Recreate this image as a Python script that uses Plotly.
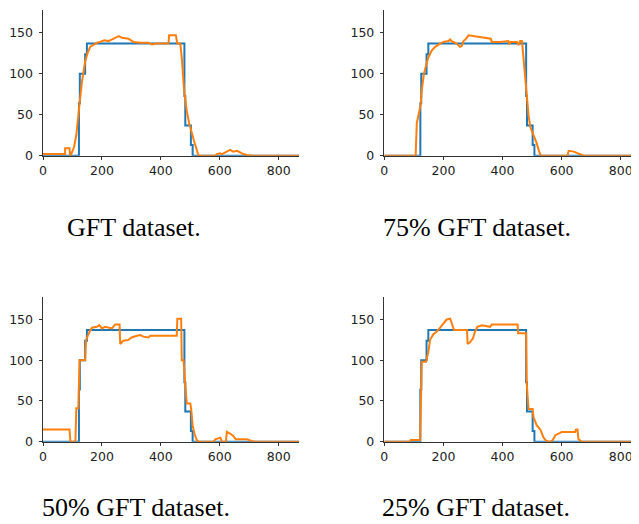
import plotly.graph_objects as go

# Ground truth (step) shared by all panels
gt_x = [0, 122, 125, 143, 149, 480, 483, 502, 508, 870]
gt_y = [0, 64, 100, 124, 137, 73, 37, 13, 0, 0]

# Estimated series for each dataset
full_x = [0, 75, 75, 90, 92, 97, 105, 113, 123, 132, 143, 151, 160, 172, 183, 194, 208, 222, 240, 257,
          268, 290, 307, 330, 358, 370, 386, 426, 428, 451, 456, 466, 471, 479, 488, 496, 511, 522, 528,
          584, 590, 601, 607, 624, 635, 646, 658, 669, 680, 692, 714, 870]
full_y = [2, 2, 9, 9, 0, 3, 10, 25, 60, 90, 115, 125, 133, 136, 138, 139, 141, 140, 143, 146,
          144, 143, 139, 138, 138, 136, 137, 137, 147, 147, 137, 137, 120, 80, 55, 40, 20, 5, 0,
          0, 2, 3, 2, 5, 7, 5, 6, 4, 2, 1, 0, 0]

p75_x = [0, 106, 110, 117, 123, 127, 134, 141, 149, 160, 172, 189, 200, 217, 223, 228, 245, 256, 262, 268,
         277, 285, 302, 324, 347, 360, 364, 392, 420, 424, 428, 449, 454, 460, 466, 471, 474, 480, 488,
         494, 505, 516, 524, 530, 620, 624, 641, 660, 675, 870]
p75_y = [0, 0, 40, 50, 62, 80, 100, 110, 120, 128, 133, 137, 139, 140, 142, 140, 137, 133, 134, 140,
         143, 147, 146, 145, 144, 143, 139, 139, 140, 136, 139, 139, 135, 140, 140, 120, 100, 80, 50,
         35, 25, 15, 5, 0, 0, 6, 5, 2, 0, 0]

p50_x = [0, 90, 93, 110, 113, 120, 124, 127, 143, 146, 151, 158, 166, 183, 191, 200, 211, 226, 234, 245,
         260, 262, 273, 290, 301, 319, 330, 341, 358, 364, 454, 456, 469, 471, 477, 482, 488, 500, 503,
         508, 514, 522, 528, 579, 585, 602, 607, 621, 624, 635, 646, 654, 692, 708, 720, 870]
p50_y = [15, 15, 0, 0, 41, 41, 100, 100, 100, 125, 130, 135, 140, 141, 143, 139, 141, 140, 139, 144,
         144, 120, 124, 125, 128, 130, 131, 129, 128, 130, 130, 151, 151, 100, 100, 75, 47, 47, 40,
         20, 10, 2, 0, 0, 3, 5, 0, 0, 12, 10, 7, 3, 3, 1, 0, 0]

p25_x = [0, 87, 89, 121, 127, 141, 149, 155, 166, 177, 189, 200, 211, 223, 228, 236, 280, 282, 290, 300,
         307, 315, 330, 347, 358, 364, 451, 453, 480, 482, 488, 502, 505, 516, 528, 539, 548, 562, 570,
         579, 590, 601, 646, 649, 654, 657, 669, 870]
p25_y = [0, 0, 2, 2, 98, 98, 110, 125, 132, 135, 140, 145, 150, 151, 145, 137, 137, 120, 122, 127,
         135, 141, 143, 142, 141, 144, 144, 133, 133, 72, 40, 40, 30, 20, 15, 5, 1, 0, 2,
         8, 10, 12, 12, 15, 15, 3, 0, 0]

captions = ["GFT dataset.", "75% GFT dataset.", "50% GFT dataset.", "25% GFT dataset."]
x_ticks = [0, 200, 400, 600, 800]
y_ticks = [0, 50, 100, 150]

# The page body has an 8px margin, so the figure is drawn 8px in from the window corner.
OFF = 8
FW, FH = 639 - OFF, 524 - OFF
BLUE = "#1f77b4"
ORANGE = "#ff7f0e"


def px(x):
    return (x - OFF) / FW


def py(y):
    return 1 - (y - OFF) / FH


R = 0.2955  # pixels per x unit
panels = [
    (full_x, full_y, (px(43), px(299.3)), (py(155.7), py(10)), 870),
    (p75_x, p75_y, (px(384.3), 1.0), (py(155.7), py(10)), (639 - 384.3) / R),
    (p50_x, p50_y, (px(43), px(299.3)), (py(441.7), py(296.7)), 870),
    (p25_x, p25_y, (px(384.3), 1.0), (py(441.7), py(296.7)), (639 - 384.3) / R),
]

fig = go.Figure()
layout = dict(
    width=FW, height=FH, margin=dict(l=0, r=0, t=0, b=0),
    paper_bgcolor="white", plot_bgcolor="white", showlegend=False,
    template="none", font=dict(family="DejaVu Sans", size=12, color="#222"),
)

axis_common = dict(showgrid=False, zeroline=False, showline=True, linecolor="#333", linewidth=1,
                   ticks="outside", ticklen=3.5, tickwidth=0.8, tickcolor="#333",
                   tickfont=dict(family="DejaVu Sans", size=12.5, color="#222"))

for i, (ox, oy, xd, yd, xmax) in enumerate(panels, start=1):
    sx = "" if i == 1 else str(i)
    fig.add_trace(go.Scatter(x=gt_x, y=gt_y, mode="lines", line=dict(color=BLUE, width=2, shape="hv"),
                             xaxis="x" + sx, yaxis="y" + sx))
    fig.add_trace(go.Scatter(x=ox, y=oy, mode="lines", line=dict(color=ORANGE, width=2),
                             xaxis="x" + sx, yaxis="y" + sx))
    layout["xaxis" + sx] = dict(domain=list(xd), range=[0, xmax], anchor="y" + sx,
                                tickvals=x_ticks, **axis_common)
    layout["yaxis" + sx] = dict(domain=list(yd), range=[0, 178], anchor="x" + sx,
                                tickvals=y_ticks, ticklabelstandoff=3, **axis_common)

fig.update_layout(**layout)

cap_pos = [(px(134), py(227.7)), (px(477.5), py(227.7)),
           (px(136), py(507)), (px(475.5), py(507))]
for text, (cx, cy) in zip(captions, cap_pos):
    fig.add_annotation(text=text, x=cx, y=cy, xref="paper", yref="paper", showarrow=False,
                       xanchor="center", yanchor="middle",
                       font=dict(family="Liberation Serif", size=26, color="black"))

fig.write_html("out.html")
